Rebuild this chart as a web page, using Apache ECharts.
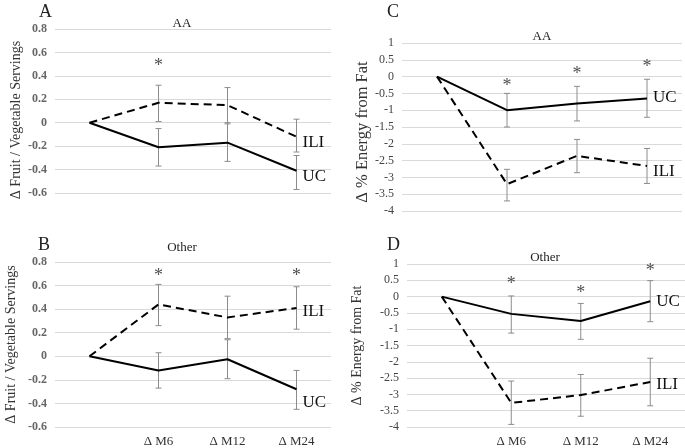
<!DOCTYPE html>
<html>
<head>
<meta charset="utf-8">
<script src="https://cdn.jsdelivr.net/npm/echarts@6/dist/echarts.min.js"></script>
<style>
  html, body { margin: 0; padding: 0; background: #fff; }
  #chart { width: 685px; height: 448px; }
</style>
</head>
<body>
<div id="chart"></div>
<script>
// x categories (first one is the baseline, no label)
const categories = ['', 'Δ M6', 'Δ M12', 'Δ M24'];

// A: AA, fruit / vegetable servings
const aaFruitILI = [0, 0.17, 0.15, -0.12];
const aaFruitILILow = [null, 0.01, -0.01, -0.25];
const aaFruitILIHigh = [null, 0.32, 0.30, 0.03];
const aaFruitUC = [0, -0.21, -0.17, -0.41];
const aaFruitUCLow = [null, -0.37, -0.33, -0.57];
const aaFruitUCHigh = [null, -0.05, 0.0, -0.28];
const aaFruitStar = [null, 0.5, null, null];

// B: Other, fruit / vegetable servings
const otherFruitILI = [0, 0.44, 0.33, 0.41];
const otherFruitILILow = [null, 0.26, 0.15, 0.23];
const otherFruitILIHigh = [null, 0.61, 0.51, 0.59];
const otherFruitUC = [0, -0.12, -0.025, -0.28];
const otherFruitUCLow = [null, -0.27, -0.19, -0.45];
const otherFruitUCHigh = [null, 0.03, 0.14, -0.12];
const otherFruitStar = [null, 0.70, null, 0.70];

// C: AA, % energy from fat
const aaFatUC = [0, -1.0, -0.8, -0.65];
const aaFatUCLow = [null, -1.5, -1.32, -1.21];
const aaFatUCHigh = [null, -0.5, -0.29, -0.08];
const aaFatILI = [0, -3.2, -2.36, -2.66];
const aaFatILILow = [null, -3.7, -2.86, -3.18];
const aaFatILIHigh = [null, -2.76, -1.87, -2.14];
const aaFatStar = [null, -0.23, 0.13, 0.33];

// D: Other, % energy from fat
const otherFatUC = [0, -0.53, -0.75, -0.14];
const otherFatUCLow = [null, -1.12, -1.31, -0.77];
const otherFatUCHigh = [null, 0.02, -0.21, 0.49];
const otherFatILI = [0, -3.26, -3.02, -2.62];
const otherFatILILow = [null, -3.92, -3.67, -3.35];
const otherFatILIHigh = [null, -2.59, -2.39, -1.89];
const otherFatStar = [null, 0.44, 0.15, 0.84];

const serif = '"Liberation Serif", "DejaVu Serif", serif';

let chart = echarts.init(document.getElementById('chart'));

function errData(low, high) {
    let out = [];
    low.forEach((v, i) => {
        if (v !== null) out.push([i, v, high[i]]);
    });
    return out;
}

function renderErr(params, api) {
    const i = api.value(0);
    const a = api.coord([i, api.value(1)]);
    const b = api.coord([i, api.value(2)]);
    const w = 3;
    const st = { stroke: '#8c8c8c', lineWidth: 1 };
    return {
        type: 'group',
        children: [
            { type: 'line', shape: { x1: a[0], y1: a[1], x2: b[0], y2: b[1] }, style: st },
            { type: 'line', shape: { x1: a[0] - w, y1: a[1], x2: a[0] + w, y2: a[1] }, style: st },
            { type: 'line', shape: { x1: b[0] - w, y1: b[1], x2: b[0] + w, y2: b[1] }, style: st }
        ]
    };
}

function lineSeries(idx, name, data, dashed, dy) {
    return {
        type: 'line', name: name, xAxisIndex: idx, yAxisIndex: idx,
        data: data, symbol: 'none', silent: true, z: 3,
        lineStyle: { color: '#000', width: 2, type: dashed ? [8, 5] : 'solid' },
        endLabel: {
            show: true, formatter: name, color: '#111', fontFamily: serif,
            fontSize: 17, distance: 6, offset: [0, dy]
        }
    };
}

function errSeries(idx, low, high) {
    return {
        type: 'custom', xAxisIndex: idx, yAxisIndex: idx,
        data: errData(low, high), renderItem: renderErr, silent: true, z: 2
    };
}

function starSeries(idx, data) {
    return {
        type: 'scatter', xAxisIndex: idx, yAxisIndex: idx, silent: true,
        data: data, symbolSize: 2, itemStyle: { color: 'rgba(0,0,0,0)' },
        label: {
            show: true, position: 'inside', formatter: '*', offset: [0, 2],
            fontSize: 18, color: '#222', fontFamily: serif
        }
    };
}

const grids = [
    { left: 55, right: 354, top: 29, bottom: 255 },
    { left: 55, right: 354, top: 262, bottom: 21 },
    { left: 402, right: 3, top: 43, bottom: 237 },
    { left: 407, right: 0, top: 264, bottom: 18 }
];

const xAxes = grids.map((g, i) => ({
    type: 'category', gridIndex: i, data: categories, boundaryGap: true,
    axisLine: { show: false }, axisTick: { show: false },
    axisLabel: {
        show: i === 1 || i === 3, color: '#333', fontFamily: serif,
        fontSize: 13, margin: 8, interval: 0
    }
}));

function yAxis(i, min, max, step, name, gap, size, pad, bold) {
    return {
        type: 'value', gridIndex: i, min: min, max: max, interval: step,
        name: name, nameLocation: 'middle', nameGap: gap, nameRotate: 90,
        nameTextStyle: { fontFamily: serif, fontSize: size, color: '#333', padding: pad },
        axisLine: { show: false }, axisTick: { show: false },
        splitLine: { lineStyle: { color: '#d9d9d9', width: 1 } },
        axisLabel: {
            color: bold ? '#666' : '#444', fontFamily: serif, fontSize: 12,
            fontWeight: bold ? 'bold' : 'normal', margin: 8
        }
    };
}

const yAxes = [
    yAxis(0, -0.6, 0.8, 0.2, 'Δ Fruit / Vegetable Servings', 32, 14, [0, 18, 0, 0], true),
    yAxis(1, -0.6, 0.8, 0.2, 'Δ Fruit / Vegetable Servings', 37, 14, 0, true),
    yAxis(2, -4, 1, 0.5, 'Δ % Energy from Fat', 28, 16.5, [0, 10, 0, 0], false),
    yAxis(3, -4, 1, 0.5, 'Δ % Energy from Fat', 43, 14, 0, false)
];

function letter(t, x, y) {
    return { text: t, left: x, top: y, textStyle: { fontFamily: serif, fontSize: 18, fontWeight: 'normal', color: '#222' } };
}
function group(t, cx, y) {
    return { text: t, left: cx, top: y, textAlign: 'center', textStyle: { fontFamily: serif, fontSize: 13, fontWeight: 'normal', color: '#222' } };
}

chart.setOption({
    animation: false,
    title: [
        letter('A', 34, -2), group('AA', 177, 12),
        letter('B', 33, 231), group('Other', 177, 236),
        letter('C', 382, -2), group('AA', 537, 25),
        letter('D', 382, 231), group('Other', 540, 246)
    ],
    grid: grids,
    xAxis: xAxes,
    yAxis: yAxes,
    series: [
        lineSeries(0, 'ILI', aaFruitILI, true, 6),
        lineSeries(0, 'UC', aaFruitUC, false, 6),
        errSeries(0, aaFruitILILow, aaFruitILIHigh),
        errSeries(0, aaFruitUCLow, aaFruitUCHigh),
        starSeries(0, aaFruitStar),

        lineSeries(1, 'ILI', otherFruitILI, true, 4),
        lineSeries(1, 'UC', otherFruitUC, false, 13),
        errSeries(1, otherFruitILILow, otherFruitILIHigh),
        errSeries(1, otherFruitUCLow, otherFruitUCHigh),
        starSeries(1, otherFruitStar),

        lineSeries(2, 'UC', aaFatUC, false, -1),
        lineSeries(2, 'ILI', aaFatILI, true, 6),
        errSeries(2, aaFatUCLow, aaFatUCHigh),
        errSeries(2, aaFatILILow, aaFatILIHigh),
        starSeries(2, aaFatStar),

        lineSeries(3, 'UC', otherFatUC, false, 0),
        lineSeries(3, 'ILI', otherFatILI, true, 3),
        errSeries(3, otherFatUCLow, otherFatUCHigh),
        errSeries(3, otherFatILILow, otherFatILIHigh),
        starSeries(3, otherFatStar)
    ]
});

window.addEventListener('resize', function () {
    chart.resize();
});
</script>
</body>
</html>
